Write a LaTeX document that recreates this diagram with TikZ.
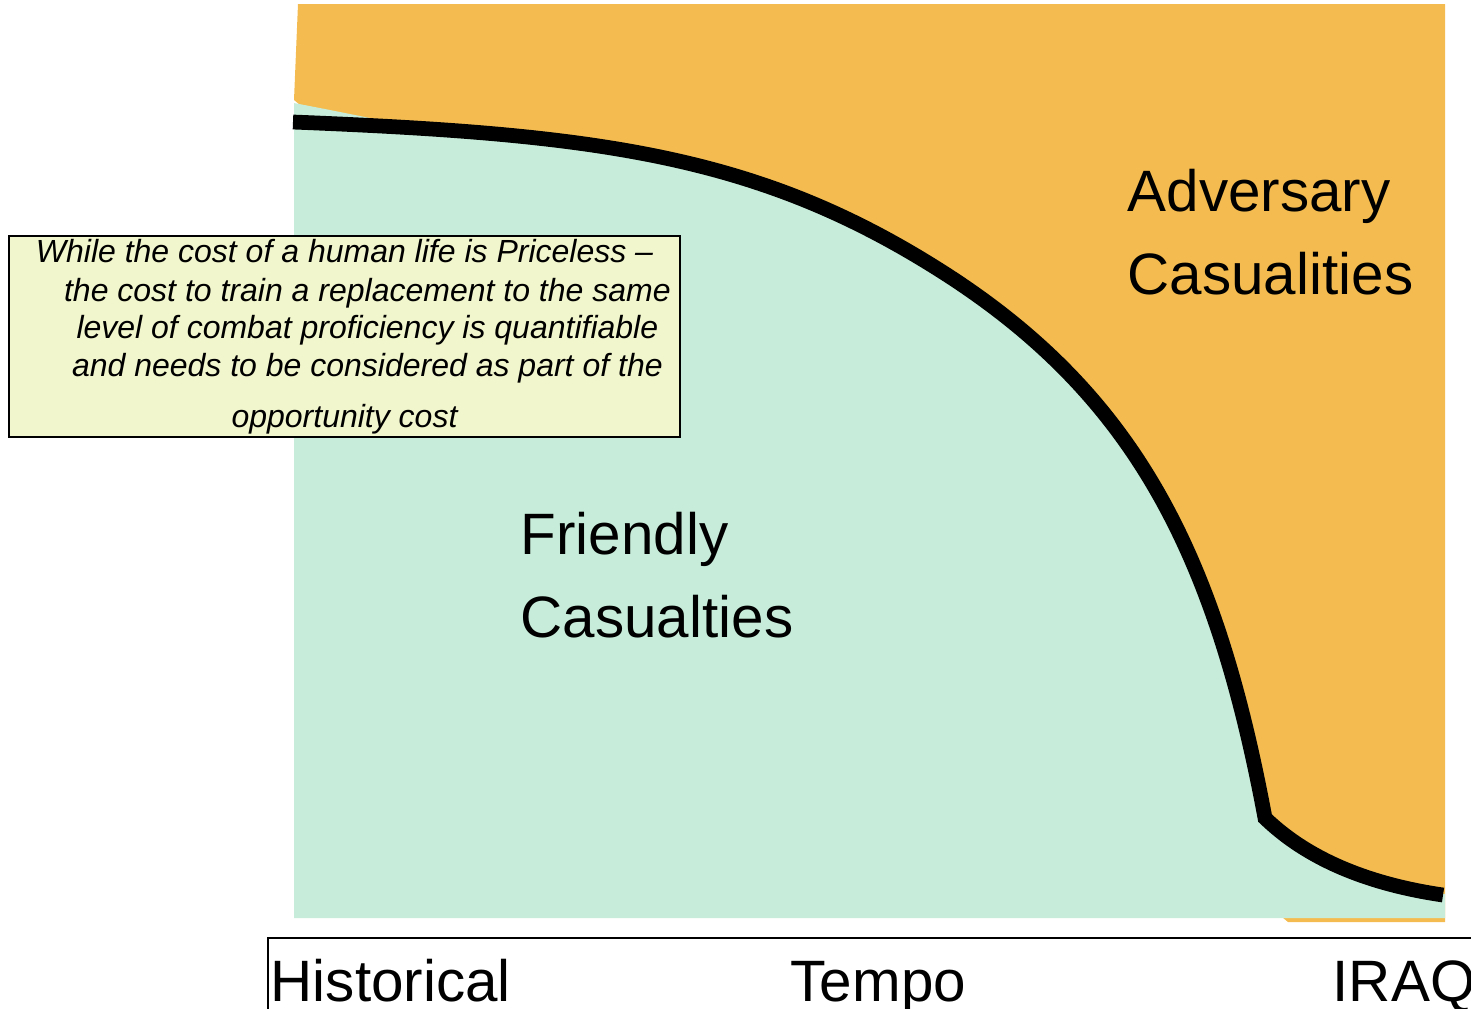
\documentclass[tikz,border=0pt]{standalone}
\usepackage{fontspec}
\setmainfont{Liberation Sans}
\definecolor{advorange}{RGB}{244, 188, 80}
\definecolor{friendgreen}{RGB}{199, 237, 218}
\definecolor{notefill}{RGB}{242, 246, 204}
\usetikzlibrary{positioning}

\begin{document}
\begin{tikzpicture}[x=0.01cm, y=-0.01cm]
  \useasboundingbox (0,0) rectangle (1471,1008);
  \clip (0,0) rectangle (1471,1008);

  % Adversary region
  \fill[advorange] (294,100) -- (298,4) -- (1445,4) -- (1445,922) -- (1288,922) -- cycle;

  % Friendly region
  \fill[friendgreen] (294,918) -- (294,103) -- (330,110) -- (400,124)
    .. controls (593,134) and (753,154) .. (933,266)
    .. controls (1133,390) and (1215,550) .. (1265,818)
    .. controls (1290,842) and (1340,880) .. (1445,894) -- (1445,918) -- cycle;

  % Trade-off curve
  \draw[line width=4.2pt] (293,122)
    .. controls (593,134) and (753,154) .. (933,266)
    .. controls (1133,390) and (1215,550) .. (1265,818)
    .. controls (1290,842) and (1340,880) .. (1443,895);

  % Note on cost
  \node[draw, line width=0.6pt, fill=notefill, minimum width=6.71cm, minimum height=2.01cm, inner sep=0pt,
        align=center, font=\fontsize{9.1}{10.8}\selectfont\itshape] (note) at (344.5,336.5) {
    While the cost of a human life is Priceless --\\[0.2pt]
    \hspace*{13pt}the cost to train a replacement to the same\\
    \hspace*{13pt}level of combat proficiency is quantifiable\\
    \hspace*{13pt}and needs to be considered as part of the\\[3.5pt]
    opportunity cost
  };

  % Region labels
  \node[anchor=north west, inner sep=0pt, align=left, font=\fontsize{16.6}{23.6}\selectfont] (adversary) at (1127,168) {Adversary\\Casualities};
  \node[anchor=north west, inner sep=0pt, align=left, font=\fontsize{16.6}{23.6}\selectfont] (friendly) at (520,511) {Friendly\\Casualties};

  % Tempo axis
  \draw[line width=0.5pt] (268,1030) -- (268,938) -- (1490,938);
  \node[anchor=base west, inner sep=0pt, font=\fontsize{16.6}{20}\selectfont] (historical) at (270,1001) {Historical};
  \node[anchor=base west, inner sep=0pt, font=\fontsize{16.6}{20}\selectfont] (tempo) at (790,1001) {Tempo};
  \node[anchor=base west, inner sep=0pt, font=\fontsize{16.6}{20}\selectfont] (iraq) at (1332,1001) {IRAQ};
\end{tikzpicture}
\end{document}
